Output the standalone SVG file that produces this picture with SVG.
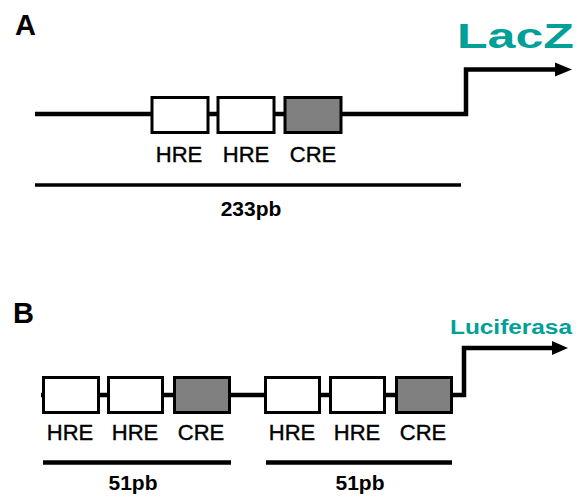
<svg xmlns="http://www.w3.org/2000/svg" width="576" height="496" viewBox="0 0 576 496">
<style>
.ln{fill:none;stroke:#000;stroke-width:4.5;stroke-linejoin:miter}
.bx{fill:#fff;stroke:#000;stroke-width:3}
.gy{fill:#808080;stroke:#000;stroke-width:3}
.lb{font-family:"Liberation Sans",Arial,sans-serif;font-size:22px;fill:#000;stroke:#000;stroke-width:0.4;text-anchor:middle}
.sz{font-family:"Liberation Sans",Arial,sans-serif;font-size:21px;font-weight:bold;fill:#000;text-anchor:middle}
.pn{font-family:"Liberation Sans",Arial,sans-serif;font-size:29px;font-weight:bold;fill:#000}
.tl{font-family:"Liberation Sans",Arial,sans-serif;font-weight:bold;fill:#00a099}
</style>
<rect width="576" height="496" fill="#fff"/>
<g id="panelA">
<text class="pn" x="15" y="35">A</text>
<g id="connectorsA">
<path class="ln" d="M35,114 H466 V69.5 H557"/>
<polygon points="555,62.5 572,69.5 555,76.5" fill="#000"/>
<line x1="35" y1="185" x2="461" y2="185" stroke="#000" stroke-width="3.3"/>
</g>
<g id="A-hre1"><rect class="bx" x="152" y="97.5" width="56" height="35"/><text class="lb" x="179" y="162">HRE</text></g>
<g id="A-hre2"><rect class="bx" x="218" y="97.5" width="56" height="35"/><text class="lb" x="246" y="162">HRE</text></g>
<g id="A-cre"><rect class="gy" x="285" y="97.5" width="56" height="35"/><text class="lb" x="313" y="162">CRE</text></g>
<text class="sz" x="251" y="216" font-size="22">233pb</text>
<text class="tl" x="457" y="47.5" font-size="35" textLength="117" lengthAdjust="spacingAndGlyphs">LacZ</text>
</g>
<g id="panelB">
<text class="pn" x="13" y="323">B</text>
<g id="connectorsB">
<path class="ln" d="M41,395 H464 V348 H554"/>
<polygon points="552,341 568,348 552,355" fill="#000"/>
<line x1="43" y1="462.5" x2="231" y2="462.5" stroke="#000" stroke-width="4.5"/>
<line x1="266" y1="462.5" x2="452" y2="462.5" stroke="#000" stroke-width="4.5"/>
</g>
<g id="B-hre1"><rect class="bx" x="43.5" y="377.5" width="55" height="35"/><text class="lb" x="70" y="440">HRE</text></g>
<g id="B-hre2"><rect class="bx" x="108.5" y="377.5" width="54" height="35"/><text class="lb" x="135" y="440">HRE</text></g>
<g id="B-cre1"><rect class="gy" x="174.5" y="377.5" width="55" height="35"/><text class="lb" x="201" y="440">CRE</text></g>
<g id="B-hre3"><rect class="bx" x="265.5" y="377.5" width="54" height="35"/><text class="lb" x="292" y="440">HRE</text></g>
<g id="B-hre4"><rect class="bx" x="330.5" y="377.5" width="54" height="35"/><text class="lb" x="357" y="440">HRE</text></g>
<g id="B-cre2"><rect class="gy" x="396.5" y="377.5" width="55" height="35"/><text class="lb" x="423" y="440">CRE</text></g>
<text class="sz" x="133" y="490">51pb</text>
<text class="sz" x="360" y="490">51pb</text>
<text class="tl" x="450" y="334" font-size="20" textLength="122" lengthAdjust="spacingAndGlyphs">Luciferasa</text>
</g>
</svg>
